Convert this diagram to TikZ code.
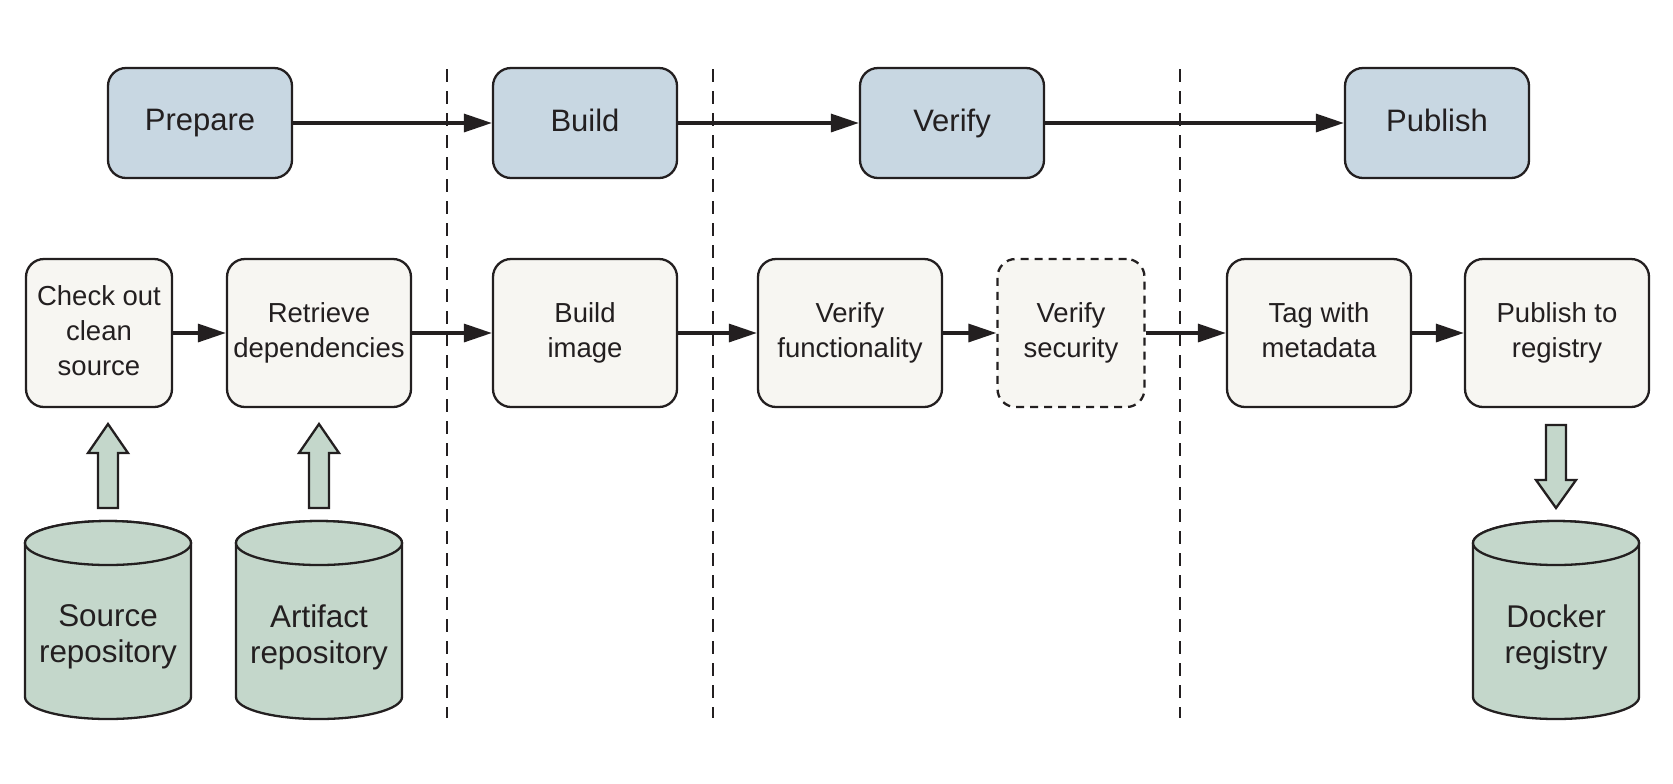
\documentclass[tikz,border=0pt]{standalone}
\usepackage{fontspec}
\setmainfont{Liberation Sans}
\usetikzlibrary{arrows.meta,calc}
\definecolor{topfill}{RGB}{200,215,226}
\definecolor{botfill}{RGB}{247,246,242}
\definecolor{cylfill}{RGB}{196,215,203}
\definecolor{ink}{RGB}{35,31,32}
\begin{document}
\begin{tikzpicture}[x=0.5pt,y=-0.5pt,
  stage/.style={draw=ink,line width=1.15pt,fill=topfill,rounded corners=9pt,
    minimum width=92pt,minimum height=55pt,text=ink,font=\fontsize{15.5}{18}\selectfont,align=center,
    execute at end node={\vphantom{Pg}}},
  stepbox/.style={draw=ink,line width=1.15pt,fill=botfill,rounded corners=9pt,
    minimum height=74pt,text=ink,font=\fontsize{13.75}{17.5}\selectfont,align=center,inner sep=2pt,
    execute at end node={\vphantom{gy}}},
  conn/.style={draw=ink,line width=1.65pt,-{Triangle[length=14pt,width=9pt]}},
  divider/.style={draw=ink,line width=1.4pt,dash pattern=on 6.5pt off 4.5pt},
  cyl/.style={draw=ink,line width=1.15pt,fill=cylfill},
  cyltext/.style={text=ink,font=\fontsize{15.7}{18}\selectfont,align=center},
  blockarrow/.style={draw=ink,line width=1.15pt,fill=cylfill,line join=miter}
]
\useasboundingbox (0,0) rectangle (1673,783);

% dashed dividers
\coordinate (d1t) at (447,69); \coordinate (d1b) at (447,718);
\coordinate (d2t) at (713,69); \coordinate (d2b) at (713,718);
\coordinate (d3t) at (1180,69); \coordinate (d3b) at (1180,718);
\draw[divider] (d1t) -- (d1b);
\draw[divider] (d2t) -- (d2b);
\draw[divider] (d3t) -- (d3b);

% top row
\node[stage] (prepare) at (200,123) {Prepare};
\node[stage] (build) at (585,123) {Build};
\node[stage] (verify) at (952,123) {Verify};
\node[stage] (publish) at (1437,123) {Publish};
\draw[conn] (prepare) -- (build);
\draw[conn] (build) -- (verify);
\draw[conn] (verify) -- (publish);

% bottom row
\node[stepbox,minimum width=73pt] (checkout) at (99,333) {Check out\\clean\\source};
\node[stepbox,minimum width=92pt] (retrieve) at (319,333) {Retrieve\\dependencies};
\node[stepbox,minimum width=92pt] (buildimg) at (585,333) {Build\\image};
\node[stepbox,minimum width=92pt] (verfunc) at (850,333) {Verify\\functionality};
\node[stepbox,minimum width=73.5pt,dash pattern=on 4pt off 3pt] (versec) at (1071,333) {Verify\\security};
\node[stepbox,minimum width=92pt] (tag) at (1319,333) {Tag with\\metadata};
\node[stepbox,minimum width=92pt] (pubreg) at (1557,333) {Publish to\\registry};
\draw[conn] (checkout) -- (retrieve);
\draw[conn] (retrieve) -- (buildimg);
\draw[conn] (buildimg) -- (verfunc);
\draw[conn] (verfunc) -- (versec);
\draw[conn] (versec) -- (tag);
\draw[conn] (tag) -- (pubreg);

% cylinders
\foreach \nm/\cx/\txt in {srccyl/108/{Source\\repository},artcyl/319/{Artifact\\repository},dockcyl/1556/{Docker\\registry}}{
  \coordinate (\nm) at (\cx,521);
  \filldraw[cyl] (\cx-83,543) -- (\cx-83,697)
     arc[start angle=180,end angle=360,x radius=41.5pt,y radius=11pt]
     -- (\cx+83,543)
     arc[start angle=0,end angle=180,x radius=41.5pt,y radius=11pt] -- cycle;
  \draw[cyl] (\cx,543) ellipse[x radius=41.5pt,y radius=11pt];
  \node[cyltext] (\nm-label) at (\cx,637) {\txt};
}

% block arrows
\begin{scope}[shift={(srccyl)}]
  \filldraw[blockarrow] (-10,-13) -- (-10,-68) -- (-20,-68) -- (0,-97) -- (20,-68) -- (10,-68) -- (10,-13) -- cycle;
\end{scope}
\begin{scope}[shift={(artcyl)}]
  \filldraw[blockarrow] (-10,-13) -- (-10,-68) -- (-20,-68) -- (0,-97) -- (20,-68) -- (10,-68) -- (10,-13) -- cycle;
\end{scope}
\begin{scope}[shift={(dockcyl)}]
  \filldraw[blockarrow] (-10,-96) -- (-10,-41) -- (-20,-41) -- (0,-13) -- (20,-41) -- (10,-41) -- (10,-96) -- cycle;
\end{scope}
\end{tikzpicture}
\end{document}
